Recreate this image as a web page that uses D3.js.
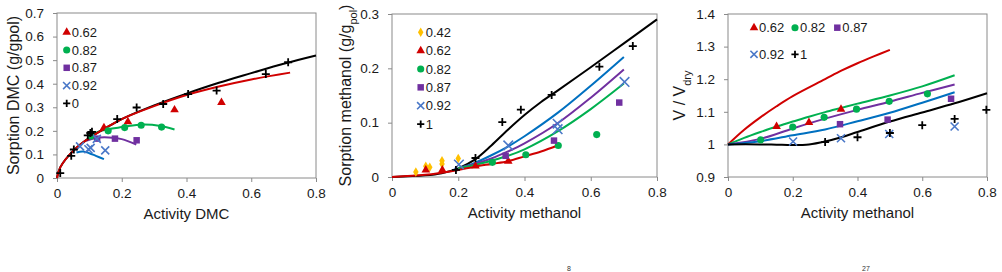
<!DOCTYPE html>
<html>
<head>
<meta charset="utf-8">
<script src="https://cdn.jsdelivr.net/npm/d3@7"></script>
<style>
  body { margin: 0; background: #fff; }
  svg { display: block; font-family: "Liberation Sans", Arial, sans-serif; }
</style>
</head>
<body>
<div id="chart"></div>
<script>
const WIDTH = 1002, HEIGHT = 272;

// Tick values
const X_TICKS = [0, 0.2, 0.4, 0.6, 0.8];
const DMC_Y_TICKS = [0, 0.1, 0.2, 0.3, 0.4, 0.5, 0.6, 0.7];
const METH_Y_TICKS = [0, 0.1, 0.2, 0.3];
const SWELL_Y_TICKS = [0.9, 1, 1.1, 1.2, 1.3, 1.4];

// Panel 1: DMC sorption, measured points [activity, sorption]
const dmcPts062 = [[0.145, 0.213], [0.219, 0.239], [0.363, 0.289], [0.508, 0.32]];
const dmcPts082 = [[0.105, 0.178], [0.158, 0.2], [0.209, 0.214], [0.26, 0.224], [0.323, 0.216]];
const dmcPts087 = [[0.124, 0.167], [0.179, 0.167], [0.246, 0.16]];
const dmcPts092 = [[0.071, 0.134], [0.097, 0.122], [0.104, 0.128], [0.123, 0.166], [0.149, 0.117]];
const dmcPts0 = [[0.01, 0.021], [0.044, 0.094], [0.052, 0.121], [0.095, 0.181], [0.103, 0.191], [0.108, 0.196],
    [0.186, 0.25], [0.246, 0.299], [0.328, 0.314], [0.405, 0.356], [0.493, 0.371], [0.645, 0.441], [0.714, 0.491]];
// Panel 1 model curves
const dmcFit0 = [[0, 0], [0.01, 0.045], [0.05, 0.115], [0.1, 0.17], [0.15, 0.212], [0.2, 0.25], [0.3, 0.308],
    [0.4, 0.358], [0.5, 0.404], [0.6, 0.445], [0.7, 0.485], [0.8, 0.52]];
const dmcFit062 = [[0, 0], [0.01, 0.045], [0.05, 0.115], [0.1, 0.17], [0.15, 0.212], [0.2, 0.25], [0.3, 0.305],
    [0.4, 0.352], [0.5, 0.388], [0.6, 0.418], [0.72, 0.447]];
const dmcFit082 = [[0.098, 0.177], [0.134, 0.2], [0.206, 0.217], [0.263, 0.227], [0.32, 0.221], [0.363, 0.206]];
const dmcFit087 = [[0.09, 0.158], [0.12, 0.17], [0.16, 0.172], [0.2, 0.165], [0.245, 0.142]];
const dmcFit092 = [[0.06, 0.108], [0.08, 0.112], [0.1, 0.105], [0.12, 0.094], [0.145, 0.08]];

// Panel 2: methanol sorption
const methPts042 = [[0.072, 0.009], [0.102, 0.02], [0.114, 0.018], [0.151, 0.03], [0.151, 0.024], [0.2, 0.034]];
const methPts062 = [[0.102, 0.013], [0.152, 0.013], [0.252, 0.02], [0.351, 0.029]];
const methPts082 = [[0.303, 0.027], [0.404, 0.041], [0.502, 0.058], [0.618, 0.078]];
const methPts087 = [[0.343, 0.039], [0.489, 0.067], [0.686, 0.137]];
const methPts092 = [[0.202, 0.023], [0.351, 0.058], [0.5, 0.098], [0.5, 0.088], [0.702, 0.175]];
const methPts1 = [[0.193, 0.013], [0.252, 0.035], [0.333, 0.101], [0.389, 0.124], [0.482, 0.151], [0.626, 0.203], [0.727, 0.241]];
const methFit1 = [[0, 0], [0.1, 0.003], [0.15, 0.007], [0.2, 0.016], [0.25, 0.032], [0.3, 0.058], [0.35, 0.087],
    [0.4, 0.114], [0.45, 0.138], [0.5, 0.159], [0.6, 0.202], [0.7, 0.246], [0.8, 0.29]];
const methFit092 = [[0.2, 0.016], [0.25, 0.026], [0.3, 0.04], [0.35, 0.056], [0.4, 0.075], [0.5, 0.118], [0.6, 0.168], [0.7, 0.221]];
const methFit087 = [[0.2, 0.016], [0.25, 0.024], [0.3, 0.034], [0.35, 0.047], [0.4, 0.062], [0.5, 0.099], [0.6, 0.146], [0.7, 0.198]];
const methFit082 = [[0.2, 0.016], [0.25, 0.022], [0.3, 0.03], [0.35, 0.039], [0.4, 0.051], [0.5, 0.084], [0.6, 0.125], [0.7, 0.172]];
const methFit062 = [[0, 0], [0.1, 0.004], [0.15, 0.008], [0.2, 0.013], [0.25, 0.019], [0.3, 0.024], [0.35, 0.029],
    [0.4, 0.038], [0.45, 0.047], [0.5, 0.058]];

// Panel 3: swelling V / Vdry
const swellPts062 = [[0.15, 1.055], [0.25, 1.067], [0.349, 1.108]];
const swellPts082 = [[0.101, 1.014], [0.2, 1.053], [0.297, 1.083], [0.397, 1.108], [0.498, 1.132], [0.616, 1.155]];
const swellPts087 = [[0.346, 1.062], [0.493, 1.076], [0.689, 1.14]];
const swellPts092 = [[0.201, 1.009], [0.349, 1.019], [0.498, 1.032], [0.7, 1.055]];
const swellPts1 = [[0.3, 1.007], [0.4, 1.022], [0.5, 1.035], [0.6, 1.059], [0.7, 1.078], [0.798, 1.106]];
const swellFit062 = [[0, 1], [0.05, 1.045], [0.1, 1.083], [0.15, 1.117], [0.2, 1.148], [0.3, 1.2], [0.35, 1.226],
    [0.4, 1.249], [0.45, 1.27], [0.5, 1.29]];
const swellFit082 = [[0, 1], [0.05, 1.02], [0.1, 1.038], [0.15, 1.055], [0.2, 1.07], [0.25, 1.085], [0.3, 1.099],
    [0.35, 1.112], [0.4, 1.125], [0.5, 1.15], [0.6, 1.178], [0.7, 1.212]];
const swellFit087 = [[0, 1], [0.1, 1.017], [0.2, 1.049], [0.3, 1.079], [0.4, 1.106], [0.5, 1.131], [0.6, 1.158], [0.7, 1.184]];
const swellFit092 = [[0, 1], [0.1, 1.01], [0.2, 1.028], [0.3, 1.046], [0.4, 1.071], [0.5, 1.097], [0.6, 1.128], [0.7, 1.16]];
const swellFit1 = [[0, 1], [0.1, 1.0], [0.15, 0.999], [0.2, 0.998], [0.25, 1.0], [0.3, 1.009], [0.35, 1.022], [0.4, 1.038],
    [0.5, 1.07], [0.6, 1.098], [0.7, 1.126], [0.8, 1.157]];

const RED = "#d00000", GREEN = "#00b050", PURPLE = "#7030a0",
    BLUE_PT = "#4a78c8", BLUE_LN = "#0070c0", ORANGE = "#ffc000", BLACK = "#000";

const svg = d3.select("#chart")
    .append("svg")
    .attr("width", WIDTH)
    .attr("height", HEIGHT);

svg.append("rect").attr("width", WIDTH).attr("height", HEIGHT).attr("fill", "#fff");

function drawMarker(g, cx, cy, sym, color, r) {
    if (sym === "plus") {
        g.append("path")
            .attr("d", `M${cx - r},${cy}H${cx + r}M${cx},${cy - r}V${cy + r}`)
            .attr("stroke", color).attr("stroke-width", 1.8).attr("fill", "none");
    } else if (sym === "cross") {
        g.append("path")
            .attr("d", `M${cx - r},${cy - r}L${cx + r},${cy + r}M${cx - r},${cy + r}L${cx + r},${cy - r}`)
            .attr("stroke", color).attr("stroke-width", 1.6).attr("fill", "none");
    } else {
        const types = { triangle: [d3.symbolTriangle, 32], circle: [d3.symbolCircle, 40], square: [d3.symbolSquare, 42], diamond: [d3.symbolDiamond, 26] };
        g.append("path")
            .attr("d", d3.symbol().type(types[sym][0]).size(types[sym][1])())
            .attr("transform", `translate(${cx},${cy})`)
            .attr("fill", color);
    }
}

function drawPanel(p) {
    const x = d3.scaleLinear().domain([0, 0.8]).range([p.left, p.right]);
    const y = d3.scaleLinear().domain(p.yDomain).range([p.bottom, p.top]);
    const g = svg.append("g");

    // Frame
    g.append("rect")
        .attr("x", p.left).attr("y", p.top)
        .attr("width", p.right - p.left).attr("height", p.bottom - p.top)
        .attr("fill", "none").attr("stroke", "#8a8a8a").attr("stroke-width", 1);

    const xAxis = g.append("g")
        .attr("transform", `translate(0, ${p.bottom})`)
        .call(d3.axisBottom(x).tickValues(X_TICKS).tickSize(4).tickPadding(6).tickFormat(d => String(d)));
    const yAxis = g.append("g")
        .attr("transform", `translate(${p.left}, 0)`)
        .call(d3.axisLeft(y).tickValues(p.yTicks).tickSize(4).tickPadding(9).tickFormat(d => String(+d.toFixed(2))));
    [xAxis, yAxis].forEach(a => {
        a.select(".domain").remove();
        a.selectAll(".tick line").attr("stroke", "#8a8a8a");
        a.selectAll("text").attr("fill", "#1a1a1a").style("font-size", "13.5px").style("font-family", "Liberation Sans, Arial, sans-serif");
    });

    // Axis titles
    g.append("text")
        .attr("x", (p.left + p.right) / 2)
        .attr("y", p.bottom + 41)
        .attr("text-anchor", "middle")
        .attr("fill", "#1a1a1a")
        .style("font-size", "15px")
        .text(p.xTitle);

    const yt = g.append("text")
        .attr("transform", `translate(${p.yTitleX}, ${(p.top + p.bottom) / 2}) rotate(-90)`)
        .attr("text-anchor", "middle")
        .attr("fill", "#1a1a1a")
        .style("font-size", "16px");
    yt.append("tspan").text(p.yTitle[0]);
    if (p.yTitle[1]) {
        yt.append("tspan").attr("baseline-shift", "sub").style("font-size", "11px").text(p.yTitle[1]);
        if (p.yTitle[2]) yt.append("tspan").text(p.yTitle[2]);
    }

    // Model curves
    const line = d3.line()
        .x(d => x(d[0]))
        .y(d => y(d[1]))
        .curve(d3.curveCatmullRom.alpha(0.5));
    p.fits.forEach(f => {
        g.append("path")
            .datum(f.data)
            .attr("d", line)
            .attr("fill", "none")
            .attr("stroke", f.color)
            .attr("stroke-width", 2);
    });

    // Measured points
    p.series.forEach(s => {
        s.data.forEach(d => drawMarker(g, x(d[0]), y(d[1]), s.sym, s.color, s.r || 4));
    });

    // Legend
    p.series.forEach((s, i) => {
        const pos = p.legendPos(i);
        drawMarker(g, pos[0], pos[1], s.sym, s.color, 3.6);
        g.append("text")
            .attr("x", pos[0] + 5)
            .attr("y", pos[1] + 4.6)
            .attr("fill", "#1a1a1a")
            .style("font-size", "13px")
            .text(s.label);
    });
}

drawPanel({
    left: 57, right: 316, top: 13, bottom: 178,
    yDomain: [0, 0.7], yTicks: DMC_Y_TICKS,
    xTitle: "Activity DMC", yTitle: ["Sorption DMC (g/gpol)"], yTitleX: 18.5,
    fits: [
        { data: dmcFit092, color: BLUE_LN },
        { data: dmcFit087, color: PURPLE },
        { data: dmcFit082, color: GREEN },
        { data: dmcFit0, color: BLACK },
        { data: dmcFit062, color: RED }
    ],
    series: [
        { label: "0.62", data: dmcPts062, sym: "triangle", color: RED },
        { label: "0.82", data: dmcPts082, sym: "circle", color: GREEN },
        { label: "0.87", data: dmcPts087, sym: "square", color: PURPLE },
        { label: "0.92", data: dmcPts092, sym: "cross", color: BLUE_PT },
        { label: "0", data: dmcPts0, sym: "plus", color: BLACK }
    ],
    legendPos: i => [66.7, 32.3 + i * 17.75]
});

drawPanel({
    left: 392, right: 657, top: 14, bottom: 177,
    yDomain: [0, 0.3], yTicks: METH_Y_TICKS,
    xTitle: "Activity methanol", yTitle: ["Sorption methanol (g/g", "pol", ")"], yTitleX: 351,
    fits: [
        { data: methFit1, color: BLACK },
        { data: methFit092, color: BLUE_LN },
        { data: methFit087, color: PURPLE },
        { data: methFit082, color: GREEN },
        { data: methFit062, color: RED }
    ],
    series: [
        { label: "0.42", data: methPts042, sym: "diamond", color: ORANGE },
        { label: "0.62", data: methPts062, sym: "triangle", color: RED },
        { label: "0.82", data: methPts082, sym: "circle", color: GREEN },
        { label: "0.87", data: methPts087, sym: "square", color: PURPLE },
        { label: "0.92", data: methPts092, sym: "cross", color: BLUE_PT, r: 4.8 },
        { label: "1", data: methPts1, sym: "plus", color: BLACK }
    ],
    legendPos: i => [420.7, 32.3 + i * 18.35]
});

drawPanel({
    left: 728, right: 987, top: 14, bottom: 177,
    yDomain: [0.9, 1.4], yTicks: SWELL_Y_TICKS,
    xTitle: "Activity methanol", yTitle: ["V / V", "dry"], yTitleX: 685,
    fits: [
        { data: swellFit062, color: RED },
        { data: swellFit082, color: GREEN },
        { data: swellFit087, color: PURPLE },
        { data: swellFit092, color: BLUE_LN },
        { data: swellFit1, color: BLACK }
    ],
    series: [
        { label: "0.62", data: swellPts062, sym: "triangle", color: RED },
        { label: "0.82", data: swellPts082, sym: "circle", color: GREEN },
        { label: "0.87", data: swellPts087, sym: "square", color: PURPLE },
        { label: "0.92", data: swellPts092, sym: "cross", color: BLUE_PT },
        { label: "1", data: swellPts1, sym: "plus", color: BLACK }
    ],
    legendPos: i => [[754, 27.7], [795, 27.7], [837.3, 27.7], [754, 54.3], [795, 54.3]][i]
});

// Caption superscripts at the bottom edge
svg.append("text").attr("x", 569).attr("y", 271).attr("text-anchor", "middle")
    .attr("fill", "#333").style("font-size", "7px").text("8");
svg.append("text").attr("x", 866).attr("y", 271).attr("text-anchor", "middle")
    .attr("fill", "#333").style("font-size", "7px").text("27");
</script>
</body>
</html>
